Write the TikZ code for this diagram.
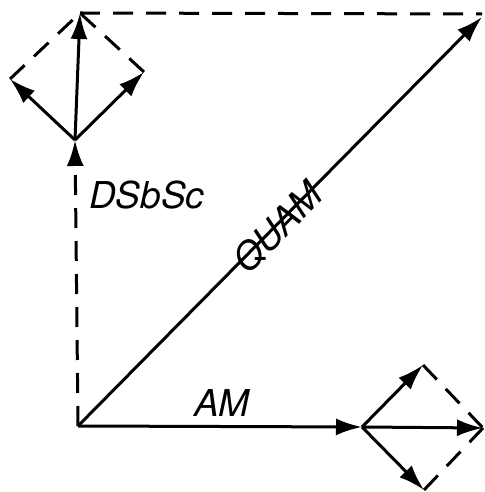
\documentclass[tikz,border=0pt]{standalone}
\usepackage{fontspec}
\setmainfont{TeX Gyre Heros}
\usetikzlibrary{arrows.meta}
\tikzset{
  vtip/.style={-{Latex[length=26pt,width=17pt]}},
  vec/.style={line width=3pt,vtip},
  dvec/.style={line width=3pt,dash pattern=on 20pt off 13pt,vtip},
  dline/.style={line width=3pt,dash pattern=on 20pt off 13pt},
  lbl/.style={font=\fontsize{37}{40}\selectfont\itshape,inner sep=0pt}
}
\begin{document}
\begin{tikzpicture}[x=1pt,y=1pt]
\useasboundingbox (0,0) rectangle (484,492);
% points (y = 492 - pixel row)
\coordinate (O) at (78,66);
\coordinate (P) at (75,352);
\coordinate (T) at (80,479);
\coordinate (L) at (10,413);
\coordinate (R) at (144,420);
\coordinate (Q) at (482,475);
\coordinate (TE) at (482,478);
\coordinate (M) at (362,65);
\coordinate (U) at (423,127);
\coordinate (D) at (424,2);
\coordinate (E) at (483,64);
% resultant
\draw[vec] (O) -- (Q);
% horizontal component and its split
\draw[vec] (O) -- (M);
\draw[vec] (M) -- (E);
\draw[vec] (M) -- (U);
\draw[vec] (M) -- (D);
\draw[dline] (U) -- (E);
\draw[dline] (D) -- (E);
% vertical component and its split
\draw[dvec] (O) -- (P);
\draw[vec] (P) -- (T);
\draw[vec] (P) -- (L);
\draw[vec] (P) -- (R);
\draw[dline] (L) -- (T);
\draw[dline] (R) -- (T);
\draw[dline] (T) -- (TE);
% labels
\node[lbl,anchor=west] (ds) at (89,297) {DSbSc};
\node[lbl] (am) at (222,89) {AM};
\node[lbl,rotate=45.4] (qu) at (278,264) {QUAM};
\end{tikzpicture}
\end{document}
